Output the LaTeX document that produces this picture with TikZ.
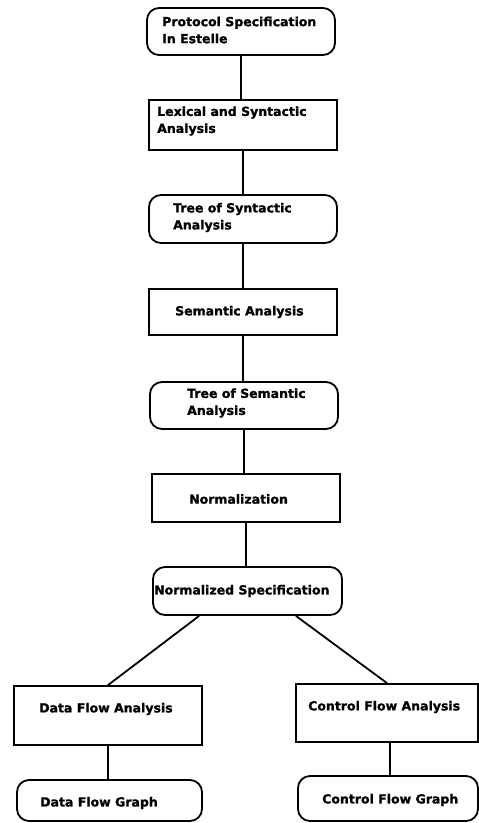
\documentclass[tikz,border=0pt]{standalone}
\usepackage{fontspec}
\setmainfont{DejaVu Sans}[BoldFeatures={FakeBold=1.2}]
\begin{document}
\begin{tikzpicture}[x=1pt,y=-1pt,
  box/.style={draw=black,line width=1.8pt,inner sep=0pt},
  rbox/.style={box,rounded corners=12pt},
  lbl/.style={anchor=west,inner sep=0pt,align=left,font=\fontsize{12.5}{17}\selectfont\bfseries},
  conn/.style={line width=1.8pt}]
\useasboundingbox[fill=white] (0,0) rectangle (479,823);
\node[rbox,minimum width=188pt,minimum height=47pt] (n1) at (241,31.5) {};
\node[box,minimum width=188pt,minimum height=50pt] (n2) at (243,125) {};
\node[rbox,minimum width=188pt,minimum height=48pt] (n3) at (243,219) {};
\node[box,minimum width=188pt,minimum height=46pt] (n4) at (243,312) {};
\node[rbox,minimum width=188pt,minimum height=47pt] (n5) at (244,405.5) {};
\node[box,minimum width=188pt,minimum height=48pt] (n6) at (246,498) {};
\node[rbox,minimum width=189pt,minimum height=48pt] (n7) at (247.5,591) {};
\node[box,minimum width=188pt,minimum height=59pt] (n8) at (108,715.5) {};
\node[rbox,minimum width=185pt,minimum height=41pt] (n9) at (109.5,800.5) {};
\node[box,minimum width=182pt,minimum height=58pt] (n10) at (387,713) {};
\node[rbox,minimum width=180pt,minimum height=45pt] (n11) at (388,798.5) {};

\node[lbl] (t1) at (162,30) {Protocol Specification\\In Estelle};
\node[lbl] (t2) at (157,121) {Lexical and Syntactic\\Analysis};
\node[lbl] (t3) at (173,217.5) {Tree of Syntactic\\Analysis};
\node[lbl] (t4) at (175,312) {Semantic Analysis};
\node[lbl] (t5) at (187,403) {Tree of Semantic\\Analysis};
\node[lbl] (t6) at (189,499) {Normalization};
\node[lbl] (t7) at (154,591) {Normalized Specification};
\node[lbl] (t8) at (39,709) {Data Flow Analysis};
\node[lbl] (t9) at (40,803) {Data Flow Graph};
\node[lbl] (t10) at (308,707) {Control Flow Analysis};
\node[lbl] (t11) at (322,800) {Control Flow Graph};

\draw[conn] (n1.south) -- (n1.south |- n2.north);
\draw[conn] (n2.south) -- (n2.south |- n3.north);
\draw[conn] (n3.south) -- (n3.south |- n4.north);
\draw[conn] (n4.south) -- (n4.south |- n5.north);
\draw[conn] (n5.south) -- (n5.south |- n6.north);
\draw[conn] (n6.south) -- (n6.south |- n7.north);
\draw[conn] ([xshift=47pt]n7.south west) -- (n8.north);
\draw[conn] ([xshift=-47pt]n7.south east) -- (n10.north);
\draw[conn] (n8.south) -- (n8.south |- n9.north);
\draw[conn] ([xshift=3pt]n10.south) -- ([xshift=3pt]n10.south |- n11.north);
\end{tikzpicture}
\end{document}
